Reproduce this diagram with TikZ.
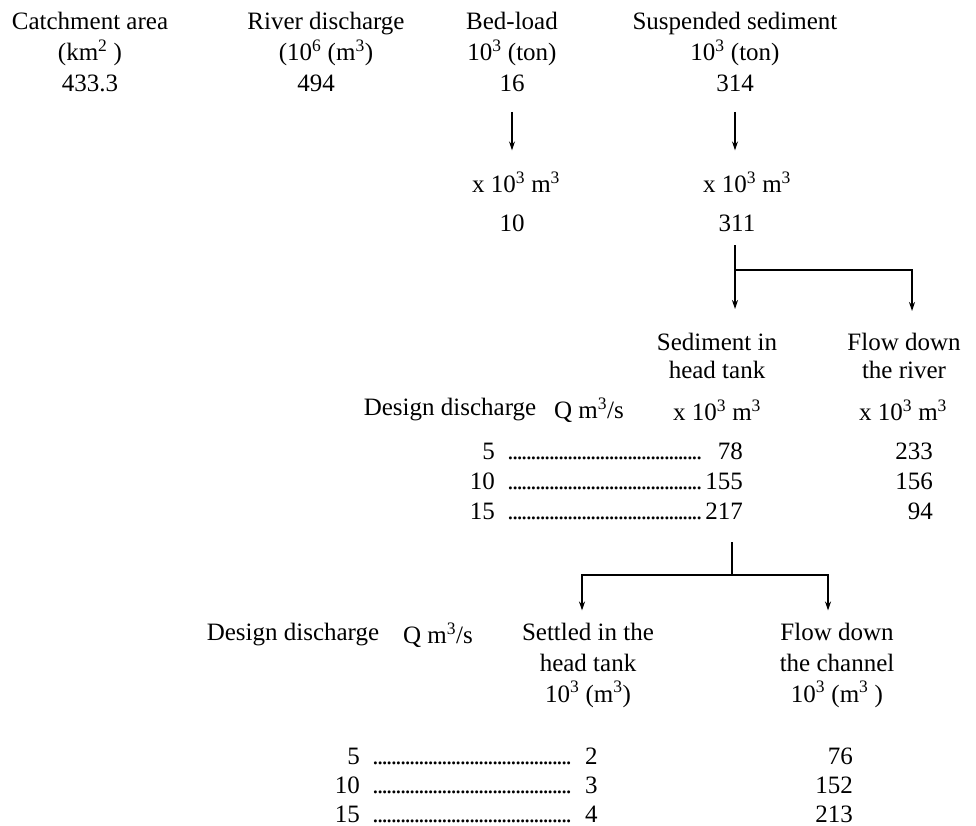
\documentclass[tikz,border=0pt]{standalone}
\usepackage{fontspec}
\setmainfont{Liberation Serif}
\usetikzlibrary{arrows.meta, positioning, calc}

\newcommand{\dotrun}[1]{\makebox[#1]{\leaders\hbox to 4.6pt{\hss.\hss}\hfill}}

\begin{document}
\begin{tikzpicture}[
    x=1pt, y=-1pt,
    txt/.style={inner sep=0pt, align=center, font=\fontsize{25}{31}\selectfont},
    num/.style={txt, anchor=base east},
    val/.style={txt, anchor=base west},
    flow/.style={-{Stealth[length=9pt, width=6pt]}, line width=1.3pt},
    link/.style={line width=1.3pt}
]
\useasboundingbox (0,0) rectangle (976,826);

% Top row
\node[txt] (catch) at (90,52) {Catchment area\\(km\textsuperscript{2} )\\433.3};
\node[txt] (rdis) at (326,52) {River discharge\\(10\textsuperscript{6} (m\textsuperscript{3})\\\hspace*{-20pt}494};
\node[txt] (bed) at (512,52) {Bed-load\\10\textsuperscript{3} (ton)\\16};
\node[txt] (susp) at (735,52) {Suspended sediment\\10\textsuperscript{3} (ton)\\314};

% Volumes
\node[txt] (bedv) at (516,182) {x 10\textsuperscript{3} m\textsuperscript{3}};
\node[txt] (bedm) at (512,223) {10};
\node[txt] (suspv) at (747,182) {x 10\textsuperscript{3} m\textsuperscript{3}};
\node[txt] (suspm) at (737,223) {311};

\draw[flow, shorten <=20pt, shorten >=21pt] (bed.south) -- (bed.south |- bedv.north);
\draw[flow, shorten <=20pt, shorten >=21pt] (susp.south) -- (susp.south |- suspv.north);

% Split at the intake
\node[txt, font=\fontsize{25}{28}\selectfont] (tank) at (717,356) {Sediment in\\head tank};
\node[txt, font=\fontsize{25}{28}\selectfont] (river) at (904,356) {Flow down\\the river};
\coordinate (s1) at (735,245);
\coordinate (j1) at (735,270);
\coordinate (j1r) at (912,270);
\draw[flow, shorten >=24pt] (s1) -- (s1 |- tank.north);
\draw[flow, shorten >=22pt] (j1) -- (j1r) -- (j1r |- river.north);

% Head tank table
\node[txt] (des1) at (450,410) {Design discharge};
\node[txt] (q1) at (589,410) {Q m\textsuperscript{3}/s};
\node[txt] (tankv) at (717,410) {x 10\textsuperscript{3} m\textsuperscript{3}};
\node[txt] (riverv) at (903,410) {x 10\textsuperscript{3} m\textsuperscript{3}};

\node[num] (a5) at (495,459) {5};
\node[val] (ad5) at (508,459) {\dotrun{197pt}};
\node[num] (at5) at (743,459) {78};
\node[num] (ar5) at (933,459) {233};
\node[num] (a10) at (495,489) {10};
\node[val] (ad10) at (508,489) {\dotrun{197pt}};
\node[num] (at10) at (743,489) {155};
\node[num] (ar10) at (933,489) {156};
\node[num] (a15) at (495,519) {15};
\node[val] (ad15) at (508,519) {\dotrun{197pt}};
\node[num] (at15) at (743,519) {217};
\node[num] (ar15) at (933,519) {94};

% Split in the head tank
\node[txt] (settle) at (588,665) {Settled in the\\head tank\\10\textsuperscript{3} (m\textsuperscript{3})};
\node[txt] (chan) at (837,665) {Flow down\\the channel\\10\textsuperscript{3} (m\textsuperscript{3} )};
\coordinate (s2) at (732,542);
\coordinate (j2) at (732,575);
\coordinate (j2l) at (582,575);
\coordinate (j2r) at (828,575);
\draw[link] (s2) -- (j2);
\draw[flow, shorten >=12pt] (j2) -- (j2l) -- (j2l |- settle.north);
\draw[flow, shorten >=12pt] (j2) -- (j2r) -- (j2r |- chan.north);

% Channel table
\node[txt] (des2) at (293,635) {Design discharge};
\node[txt] (q2) at (438,635) {Q m\textsuperscript{3}/s};

\node[num] (b5) at (360,764) {5};
\node[val] (bd5) at (373,764) {\dotrun{202pt}};
\node[val] (bs5) at (585,764) {2};
\node[num] (bc5) at (853,764) {76};
\node[num] (b10) at (360,793) {10};
\node[val] (bd10) at (373,793) {\dotrun{202pt}};
\node[val] (bs10) at (585,793) {3};
\node[num] (bc10) at (853,793) {152};
\node[num] (b15) at (360,822) {15};
\node[val] (bd15) at (373,822) {\dotrun{202pt}};
\node[val] (bs15) at (585,822) {4};
\node[num] (bc15) at (853,822) {213};
\end{tikzpicture}
\end{document}
